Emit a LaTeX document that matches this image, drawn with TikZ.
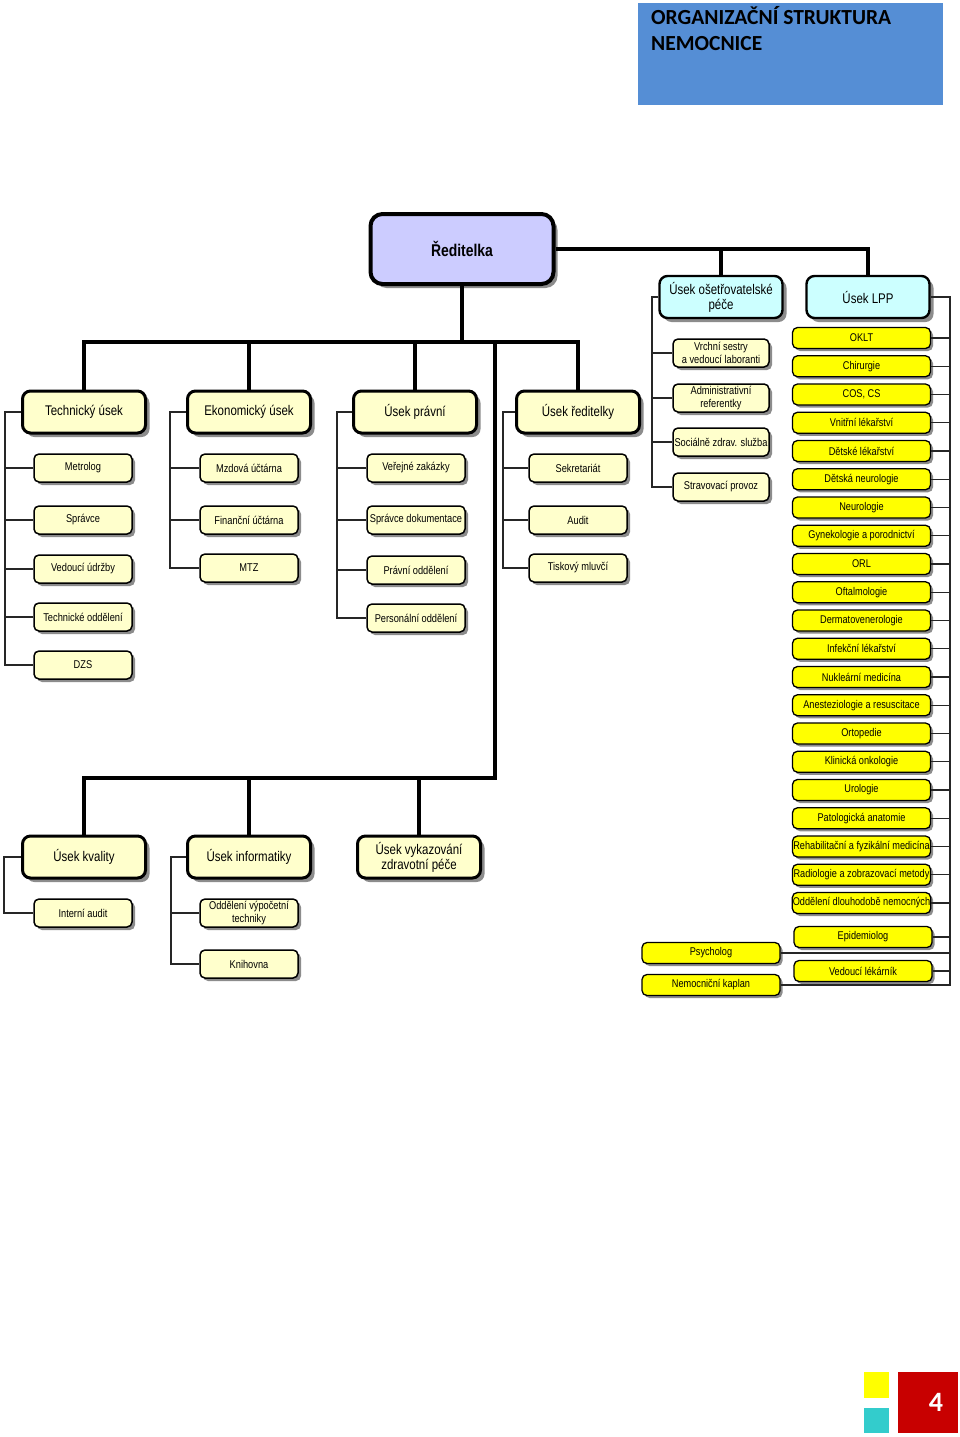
\documentclass[tikz,border=0pt]{standalone}
\usepackage{fontspec}
\newfontfamily\nar{Liberation Sans}[FakeStretch=0.82]
\newfontfamily\hdr{Carlito}
\usetikzlibrary{shadows}
\definecolor{cream}{HTML}{FFFFCC}
\definecolor{ylw}{HTML}{FFFF00}
\definecolor{cyanbx}{HTML}{CCFFFF}
\definecolor{lav}{HTML}{CCCCFF}
\definecolor{hdrblue}{HTML}{558ED5}
\definecolor{pgred}{HTML}{C80000}
\definecolor{pgcyan}{HTML}{33CCCC}
\tikzset{
  shd/.style={drop shadow={shadow xshift=#1, shadow yshift=-#1, fill=black!60, opacity=0.75}},
  topbox/.style={draw, line width=4pt, rounded corners=12pt, fill=lav, minimum width=183pt, minimum height=70pt, font=\nar\bfseries\fontsize{17}{19}\selectfont, align=center, inner sep=1pt, shd=4pt},
  lvl/.style={draw, line width=3pt, rounded corners=8pt, fill=cream, minimum width=123pt, minimum height=42pt, font=\nar\fontsize{14}{15}\selectfont, align=center, inner sep=1pt, shd=4pt},
  cyanbox/.style={lvl, fill=cyanbx, line width=2.4pt},
  subbox/.style={draw, line width=1.5pt, rounded corners=5pt, fill=cream, minimum width=98pt, minimum height=28pt, font=\nar\fontsize{11.3}{12.5}\selectfont, align=center, inner sep=1pt, shd=3pt},
  ybox/.style={draw, line width=1.3pt, rounded corners=5pt, fill=ylw, minimum width=138pt, minimum height=21pt, font=\nar\fontsize{11.2}{12}\selectfont, align=center, inner sep=0.5pt, shd=2.5pt},
  bus/.style={line width=4pt, line join=miter},
  brk/.style={line width=1.1pt, black!85}
}
\begin{document}
\begin{tikzpicture}[x=1pt,y=-1pt]
\fill[white] (0,0) rectangle (960,1437);
\useasboundingbox (0,0) rectangle (960,1437);

% header
\node[fill=hdrblue, minimum width=305pt, minimum height=102pt, anchor=north west, inner sep=0] (hdrbox) at (638,3) {};
\node[anchor=base west, inner sep=0, font=\hdr\bfseries\fontsize{21.5}{26}\selectfont] (h1) at (651,25) {ORGANIZAČNÍ STRUKTURA};
\node[anchor=base west, inner sep=0, font=\hdr\bfseries\fontsize{21.5}{26}\selectfont] (h2) at (651,51) {NEMOCNICE};

% page marker
\node[fill=ylw, minimum width=25pt, minimum height=26pt, anchor=north west, inner sep=0] (sqy) at (864,1372) {};
\node[fill=pgcyan, minimum width=25pt, minimum height=25pt, anchor=north west, inner sep=0] (sqc) at (864,1408) {};
\node[fill=pgred, minimum width=60pt, minimum height=61pt, anchor=north west, inner sep=0] (sqr) at (898,1372) {};
\node[text=white, inner sep=0, font=\hdr\bfseries\fontsize{28}{30}\selectfont] (pgnum) at (936,1402) {4};

% top
\node[topbox] (red) at (462,249) {Ředitelka};
\node[cyanbox] (osp) at (721,297) {Úsek ošetřovatelské\\péče};
\node[cyanbox] (lpp) at (868,297) {Úsek LPP};

% level 1
\node[lvl] (tech) at (84,412) {Technický úsek};
\node[lvl] (eko) at (249,412) {Ekonomický úsek};
\node[lvl] (prav) at (415,412) {Úsek právní};
\node[lvl] (ured) at (578,412) {Úsek ředitelky};
\node[lvl] (kval) at (84,857) {Úsek kvality};
\node[lvl] (info) at (249,857) {Úsek informatiky};
\node[lvl] (vyk) at (419,857) {Úsek vykazování\\zdravotní péče};

% thick connectors
\coordinate (jA) at (462,342);
\coordinate (jB) at (495,342);
\coordinate (jC) at (495,778);
\draw[bus] (red.south) -- (jA);
\draw[bus] (tech.north) |- (jA) -| (ured.north);
\draw[bus] (eko.north) -- (eko.north |- jA);
\draw[bus] (prav.north) -- (prav.north |- jA);
\draw[bus] (jB) -- (jC) -| (kval.north);
\draw[bus] (info.north) -- (info.north |- jC);
\draw[bus] (vyk.north) -- (vyk.north |- jC);
\draw[bus] (red.east) -| (lpp.north);
\draw[bus] (osp.north) -- (osp.north |- red.east);

% Technicky usek
\node[subbox] (met) at (83,468) {Metrolog};
\node[subbox] (spr) at (83,520) {Správce};
\node[subbox] (ved) at (83,569) {Vedoucí údržby};
\node[subbox] (tod) at (83,617) {Technické oddělení};
\node[subbox] (dzs) at (83,665) {DZS};
\coordinate (brT) at (5,412);
\draw[brk] (tech.west) -- (brT) |- (dzs.west);
\foreach \n in {met,spr,ved,tod} \draw[brk] (\n.west) -- (\n.west -| brT);

% Ekonomicky usek
\node[subbox] (mzd) at (249,468) {Mzdová účtárna};
\node[subbox] (fin) at (249,520) {Finanční účtárna};
\node[subbox] (mtz) at (249,568) {MTZ};
\coordinate (brE) at (170,412);
\draw[brk] (eko.west) -- (brE) |- (mtz.west);
\foreach \n in {mzd,fin} \draw[brk] (\n.west) -- (\n.west -| brE);

% Usek pravni
\node[subbox] (vz) at (416,468) {Veřejné zakázky};
\node[subbox] (sd) at (416,520) {Správce dokumentace};
\node[subbox] (po) at (416,570) {Právní oddělení};
\node[subbox] (pers) at (416,618) {Personální oddělení};
\coordinate (brP) at (337,412);
\draw[brk] (prav.west) -- (brP) |- (pers.west);
\foreach \n in {vz,sd,po} \draw[brk] (\n.west) -- (\n.west -| brP);

% Usek reditelky
\node[subbox] (sek) at (578,468) {Sekretariát};
\node[subbox] (aud) at (578,520) {Audit};
\node[subbox] (tis) at (578,568) {Tiskový mluvčí};
\coordinate (brR2) at (503,412);
\draw[brk] (ured.west) -- (brR2) |- (tis.west);
\foreach \n in {sek,aud} \draw[brk] (\n.west) -- (\n.west -| brR2);

% Usek kvality
\node[subbox] (ia) at (83,913) {Interní audit};
\coordinate (brK) at (4,857);
\draw[brk] (kval.west) -- (brK) |- (ia.west);

% Usek informatiky
\node[subbox] (ovt) at (249,913) {Oddělení výpočetní\\techniky};
\node[subbox] (kni) at (249,964) {Knihovna};
\coordinate (brI) at (171,857);
\draw[brk] (info.west) -- (brI) |- (kni.west);
\draw[brk] (ovt.west) -- (ovt.west -| brI);

% Usek osetrovatelske pece
\node[subbox, minimum width=96pt] (vrch) at (721,353) {Vrchní sestry\\a vedoucí laboranti};
\node[subbox, minimum width=96pt] (adm) at (721,398) {Administrativní\\referentky};
\node[subbox, minimum width=96pt] (soc) at (721,442) {Sociálně zdrav. služba};
\node[subbox, minimum width=96pt] (stra) at (721,487) {Stravovací provoz};
\coordinate (brO) at (652,297);
\draw[brk] (osp.west) -- (brO) |- (stra.west);
\foreach \n in {vrch,adm,soc} \draw[brk] (\n.west) -- (\n.west -| brO);

% Usek LPP
\foreach \n/\t [count=\i from 0] in {
  y1/OKLT, y2/Chirurgie, y3/{COS, CS}, y4/Vnitřní lékařství, y5/Dětské lékařství,
  y6/Dětská neurologie, y7/Neurologie, y8/Gynekologie a porodnictví, y9/ORL,
  y10/Oftalmologie, y11/Dermatovenerologie, y12/Infekční lékařství,
  y13/Nukleární medicína, y14/Anesteziologie a resuscitace, y15/Ortopedie,
  y16/Klinická onkologie, y17/Urologie, y18/Patologická anatomie,
  y19/Rehabilitační a fyzikální medicína, y20/Radiologie a zobrazovací metody,
  y21/Oddělení dlouhodobě nemocných}
  \node[ybox] (\n) at (861.5,338+28.25*\i) {\t};
\node[ybox] (epi) at (863,937) {Epidemiolog};
\node[ybox] (lek) at (863,971) {Vedoucí lékárník};
\node[ybox] (psy) at (711,953) {Psycholog};
\node[ybox] (kap) at (711,985) {Nemocniční kaplan};
\coordinate (brL) at (950,297);
\draw[brk] (lpp.east) -- (brL) |- (kap.east);
\foreach \n in {y1,y2,y3,y4,y5,y6,y7,y8,y9,y10,y11,y12,y13,y14,y15,y16,y17,y18,y19,y20,y21,epi,lek,psy}
  \draw[brk] (\n.east) -- (\n.east -| brL);
\end{tikzpicture}
\end{document}
